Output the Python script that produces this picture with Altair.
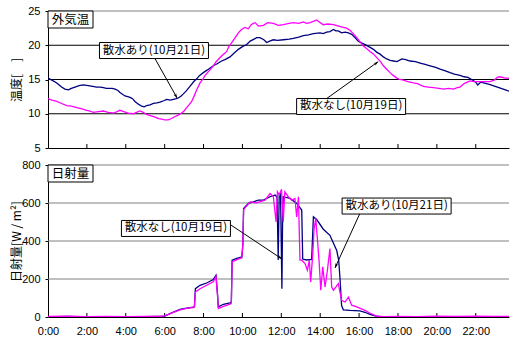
import math
import altair as alt
import pandas as pd

# ---------------- time axis (hours of the day) ----------------
X_MAX = 23.71
HOUR_TICKS = list(range(0, 24, 2))
INNER_TICKS = list(range(2, 24, 2))

# ---------------- outside air temperature [°C] ----------------
temp_navy_h = [0.0, 0.2, 0.45, 0.7, 0.87, 1.05, 1.2, 1.39, 1.6, 1.82, 2.07, 2.3, 2.5, 2.7, 2.85,
               3.0, 3.19, 3.3, 3.45, 3.6, 3.7, 3.85, 3.96, 4.1, 4.22, 4.35, 4.47, 4.65, 4.82, 4.95,
               5.07, 5.25, 5.42, 5.6, 5.76, 5.95, 6.1, 6.3, 6.45, 6.6, 6.7, 6.85, 6.96, 7.1, 7.3,
               7.5, 7.65, 7.8, 7.99, 8.2, 8.5, 8.7, 8.93, 9.1, 9.36, 9.55, 9.79, 10.0, 10.22, 10.4,
               10.6, 10.73, 10.9, 11.1, 11.25, 11.4, 11.59, 11.8, 12.11, 12.4, 12.62, 12.9, 13.13,
               13.4, 13.65, 13.99, 14.15, 14.33, 14.5, 14.68, 14.8, 14.93, 15.1, 15.28, 15.45,
               15.62, 15.8, 15.96, 16.15, 16.31, 16.5, 16.74, 16.9, 17.08, 17.25, 17.42, 17.6,
               17.77, 17.95, 18.2, 18.4, 18.62, 18.9, 19.14, 19.4, 19.65, 19.9, 20.17, 20.4, 20.68,
               20.9, 21.19, 21.4, 21.6, 21.85, 22.0, 22.1, 22.25, 22.4, 22.7, 23.0, 23.3, 23.6, 23.72]
temp_navy_v = [15.2, 14.9, 14.5, 13.9, 13.6, 13.5, 13.7, 13.9, 14.1, 14.2, 14.1, 14.0, 13.9, 13.9, 13.8,
               13.7, 13.7, 13.7, 13.6, 13.4, 13.1, 12.8, 12.6, 12.5, 12.4, 12.2, 11.8, 11.4, 11.1, 11.0,
               11.2, 11.3, 11.5, 11.6, 11.7, 11.9, 12.1, 12.0, 12.1, 12.2, 12.3, 12.6, 12.9, 13.3, 14.0,
               14.7, 15.1, 15.6, 16.0, 16.4, 17.0, 17.3, 17.7, 17.9, 18.3, 18.8, 19.4, 19.8, 20.1, 20.6,
               20.9, 21.1, 21.1, 20.8, 20.4, 20.6, 20.8, 20.7, 20.8, 20.9, 21.0, 21.2, 21.4,
               21.5, 21.7, 21.8, 21.7, 21.9, 22.0, 22.3, 22.1, 22.1, 21.8, 21.9, 21.8,
               21.6, 21.1, 20.6, 20.3, 20.1, 19.8, 19.4, 19.0, 18.7, 18.3, 18.0, 17.8,
               17.7, 17.6, 18.0, 17.9, 17.7, 17.6, 17.4, 17.2, 17.0, 16.8, 16.5, 16.3, 16.0,
               15.8, 15.6, 15.4, 15.3, 14.9, 14.6, 14.2, 14.6, 14.5, 14.3, 14.0, 13.7, 13.4, 13.3]

temp_mag_h = [0.0, 0.2, 0.45, 0.7, 0.96, 1.2, 1.48, 1.75, 1.99, 2.15, 2.33, 2.6, 2.85, 3.1, 3.37,
              3.55, 3.7, 3.9, 4.13, 4.39, 4.55, 4.73, 4.9, 5.07, 5.3, 5.5, 5.7, 5.85, 6.0, 6.19,
              6.35, 6.53, 6.7, 6.87, 7.0, 7.13, 7.25, 7.39, 7.5, 7.65, 7.82, 7.95, 8.08, 8.3, 8.5,
              8.65, 8.85, 9.0, 9.19, 9.3, 9.45, 9.6, 9.79, 9.95, 10.13, 10.3, 10.45, 10.56, 10.65,
              10.82, 11.08, 11.3, 11.59, 11.85, 12.11, 12.4, 12.62, 12.9, 13.13, 13.3, 13.48,
              13.65, 13.82, 14.0, 14.16, 14.4, 14.68, 14.95, 15.19, 15.35, 15.53, 15.7, 15.88,
              16.05, 16.22, 16.4, 16.56, 16.75, 16.91, 17.1, 17.25, 17.42, 17.59, 17.75, 17.94,
              18.1, 18.28, 18.5, 18.79, 19.0, 19.31, 19.55, 19.82, 20.1, 20.34, 20.6, 20.86,
              21.05, 21.19, 21.4, 21.71, 21.9, 22.22, 22.5, 22.73, 22.95, 23.1, 23.25, 23.5, 23.72]
temp_mag_v = [12.2, 12.0, 11.8, 11.5, 11.2, 11.1, 10.9, 10.7, 10.5, 10.4, 10.2, 10.3, 10.4, 10.2, 10.1,
              10.3, 10.5, 10.3, 10.1, 10.0, 10.2, 10.4, 10.2, 9.9, 9.7, 9.5, 9.3, 9.2, 9.1, 9.1,
              9.3, 9.6, 9.8, 10.1, 10.4, 10.9, 11.3, 11.8, 12.5, 13.5, 14.5, 15.0, 15.6, 16.3, 17.0,
              17.6, 18.2, 18.6, 19.1, 19.8, 20.4, 21.0, 21.8, 22.3, 22.6, 22.4, 23.0, 23.2, 23.3,
              22.8, 22.9, 23.3, 23.2, 22.9, 23.0, 23.2, 23.3, 23.2, 23.4, 23.2, 23.3,
              23.5, 23.7, 23.3, 23.0, 23.1, 23.0, 22.8, 22.6, 22.5, 22.2, 21.7, 21.1,
              20.5, 19.9, 19.5, 19.1, 18.7, 18.2, 17.6, 17.0, 16.5, 16.0, 15.6, 15.2,
              15.0, 14.9, 14.7, 14.5, 14.4, 14.0, 13.9, 13.8, 13.7, 13.6, 13.7, 13.6,
              13.8, 13.9, 14.4, 14.8, 14.7, 14.7, 14.7, 14.7, 14.9, 15.3, 15.4, 15.2, 15.2]

# ---------------- solar radiation [W/m2] ----------------
sol_navy_h = [0.0, 1.0, 1.5, 2.5, 5.0, 5.5, 6.0, 6.45, 6.79, 7.13, 7.47, 7.53, 7.58, 7.82, 8.16,
              8.5, 8.64, 8.72, 8.76, 9.02, 9.36, 9.43, 9.47, 9.71, 9.97, 10.02, 10.06, 10.31,
              10.56, 10.82, 11.08, 11.42, 11.68, 11.78, 11.84, 11.89, 11.96, 12.03, 12.07, 12.1,
              12.45, 12.79, 13.05, 13.1, 13.3, 13.56, 13.65, 13.82, 14.16, 14.5, 14.85, 14.95,
              15.02, 15.1, 15.19, 15.53, 16.04, 16.3, 16.56, 16.91, 17.2, 20.0, 22.0, 23.72]
sol_navy_v = [0, 3, 2, 0, 2, 3, 5, 26, 40, 47, 52, 53, 149, 167, 179,
              197, 220, 120, 53, 67, 74, 80, 299, 308, 316, 380, 571, 598,
              606, 615, 615, 633, 642, 630, 300, 640, 650, 149, 560, 633,
              624, 598, 563, 305, 300, 303, 527, 513, 462, 430, 350, 300,
              200, 60, 38, 35, 32, 25, 14, 4, 0, 2, 1, 0]

sol_mag_h = [0.0, 1.0, 2.0, 3.0, 4.0, 5.0, 5.8, 6.0, 6.45, 6.79, 7.13, 7.47, 7.53, 7.58, 7.82,
             8.16, 8.5, 8.64, 8.72, 8.76, 9.02, 9.36, 9.43, 9.47, 9.71, 9.97, 10.02, 10.06,
             10.39, 10.73, 11.16, 11.42, 11.59, 11.73, 11.8, 11.9, 12.01, 12.1, 12.18, 12.36,
             12.53, 12.7, 12.79, 12.88, 12.96, 13.05, 13.22, 13.34, 13.44, 13.51, 13.62, 13.68,
             13.77, 13.86, 13.94, 14.03, 14.13, 14.25, 14.37, 14.5, 14.59, 14.68, 14.81, 14.93,
             15.1, 15.28, 15.45, 15.62, 15.88, 16.22, 16.56, 16.91, 17.3, 18.0, 19.0, 20.0,
             21.0, 22.0, 23.0, 23.72]
sol_mag_v = [3, 4, 2, 3, 2, 3, 4, 6, 24, 38, 45, 50, 52, 132, 149,
             167, 185, 214, 110, 44, 56, 68, 72, 290, 302, 312, 380, 565,
             606, 601, 615, 650, 633, 501, 659, 642, 672, 501, 659, 633,
             615, 624, 527, 633, 299, 299, 281, 246, 299, 185, 334, 457,
             519, 404, 299, 141, 264, 158, 246, 360, 158, 141, 158, 176,
             88, 79, 105, 62, 53, 39, 21, 4, 2, 3, 2, 4,
             3, 4, 3, 3]

TEMP_GRID = [10, 15, 20]
SOL_GRID = [200, 400, 600]

# callouts: text, box centre, arrow start, arrow end (data coordinates)
temp_notes = pd.DataFrame({
    "text": ["散水あり(10月21日)", "散水なし(10月19日)"],
    "cx": [5.45, 15.59], "cy": [19.23, 11.06],
    "x1": [5.5, 14.35], "y1": [18.06, 12.25],
    "x2": [6.64, 16.98], "y2": [12.3, 17.6],
})
sol_notes = pd.DataFrame({
    "text": ["散水なし(10月19日)", "散水あり(10月21日)"],
    "cx": [6.58, 17.93], "cy": [466, 584],
    "x1": [9.41, 16.05], "y1": [484, 547],
    "x2": [12.04, 14.76], "y2": [305, 258],
})

W = 461
H_TOP = 137
H_BOT = 152
NAVY = "#000080"
MAGENTA = "#FF00FF"
JP_FONT = "Noto Sans CJK JP"
ARROW = "M0,0 L-0.55,1.7 L0,1.25 L0.55,1.7 Z"


def add_angles(df, y_span, height):
    """Screen-space heading of each arrow, clockwise from straight up."""
    df = df.copy()
    ang = []
    for _, r in df.iterrows():
        dx = (r.x2 - r.x1) * W / X_MAX
        dy = -(r.y2 - r.y1) * height / y_span
        ang.append(math.degrees(math.atan2(dx, -dy)) % 360)
    df["angle"] = ang
    return df


def panel(series, y_dom, y_vals, y_title, grid_vals, grid_color, notes, height, name, show_x_labels):
    xs = alt.Scale(domain=[0, X_MAX], nice=False, zero=False)
    ys = alt.Scale(domain=y_dom, nice=False, zero=False)

    x_axis = alt.Axis(
        values=HOUR_TICKS, grid=False, ticks=False, domainColor="black",
        labels=show_x_labels, labelExpr="datum.value + ':00'", labelFlush=False,
        labelOverlap=False, labelPadding=8, title=None,
    )
    y_axis = alt.Axis(
        values=y_vals, tickCount=len(y_vals), grid=False, tickSize=3, tickColor="black",
        domainColor="black", labelPadding=5, labelOverlap=False, labelFlush=False,
        title=y_title, titleAngle=270, titleX=-32, titleY=height / 2,
        titleAlign="center", titleBaseline="middle",
    )

    # every layer carries the same axis definitions so the merged axes agree
    def X(field):
        return alt.X(field, scale=xs, axis=x_axis)

    def Y(field):
        return alt.Y(field, scale=ys, axis=y_axis)

    grid = alt.Chart(pd.DataFrame({"v": grid_vals})).mark_rule(
        color=grid_color, strokeWidth=1
    ).encode(y=Y("v:Q"))

    top_edge = alt.Chart(pd.DataFrame({"v": [y_dom[1]]})).mark_rule(
        color="#808080", strokeWidth=1
    ).encode(y=Y("v:Q"))

    ticks = alt.Chart(pd.DataFrame({"h": INNER_TICKS})).mark_rule(
        color="black", strokeWidth=1
    ).encode(
        x=X("h:Q"), y=alt.value(height - 4), y2=alt.value(height),
    )

    lines = []
    for hours, vals, color in series:
        df = pd.DataFrame({"h": hours, "v": vals})
        lines.append(
            alt.Chart(df).mark_line(color=color, strokeWidth=1.3, clip=True).encode(
                x=X("h:Q"), y=Y("v:Q")
            )
        )

    notes = add_angles(notes, y_dom[1] - y_dom[0], height)
    base = alt.Chart(notes)
    leader = base.mark_rule(color="black", strokeWidth=1).encode(
        x=X("x1:Q"), y=Y("y1:Q"), x2="x2:Q", y2="y2:Q",
    )
    head = base.mark_point(
        shape=ARROW, filled=True, color="black", size=30, opacity=1
    ).encode(
        x=X("x2:Q"), y=Y("y2:Q"), angle=alt.Angle("angle:Q", scale=None),
    )
    box = base.mark_rect(
        fill="white", stroke="black", strokeWidth=1,
        xOffset=-54.5, x2Offset=54.5, yOffset=-8, y2Offset=8,
    ).encode(
        x=X("cx:Q"), x2="cx:Q", y=Y("cy:Q"), y2="cy:Q",
    )
    label = base.mark_text(font=JP_FONT, fontSize=11.5, color="black").encode(
        x=X("cx:Q"), y=Y("cy:Q"), text="text:N",
    )

    tag = alt.Chart(pd.DataFrame({"t": [name]}))
    tag_box = tag.mark_rect(fill="white", stroke="black", strokeWidth=1).encode(
        x=alt.value(0), x2=alt.value(45), y=alt.value(0), y2=alt.value(17)
    )
    tag_text = tag.mark_text(font=JP_FONT, fontSize=12.5, color="black").encode(
        x=alt.value(22.5), y=alt.value(8.5), text="t:N"
    )

    return alt.layer(
        grid, top_edge, ticks, *lines, leader, head, box, label, tag_box, tag_text
    ).properties(width=W, height=height)


temp_panel = panel(
    [(temp_navy_h, temp_navy_v, NAVY), (temp_mag_h, temp_mag_v, MAGENTA)],
    [5, 25], [5, 10, 15, 20, 25], "温度[　]", TEMP_GRID, "black",
    temp_notes, H_TOP, "外気温", False,
)
sol_panel = panel(
    [(sol_navy_h, sol_navy_v, NAVY), (sol_mag_h, sol_mag_v, MAGENTA)],
    [0, 800], [0, 200, 400, 600, 800], "日射量[W / m²]", SOL_GRID, "#808080",
    sol_notes, H_BOT, "日射量", True,
)

chart = alt.vconcat(temp_panel, sol_panel, spacing=6).properties(
    padding={"left": 10, "top": 5, "right": 0, "bottom": 0},
    background="white",
).configure_view(stroke=None).configure_axis(
    labelFont="Liberation Sans", labelFontSize=11, labelColor="black",
    titleFont=JP_FONT, titleFontSize=12, titleFontWeight="normal", titleColor="black",
    domainWidth=1, labelOverlap=False,
)

chart.save("out.html", embed_options={"renderer": "svg", "actions": False})
